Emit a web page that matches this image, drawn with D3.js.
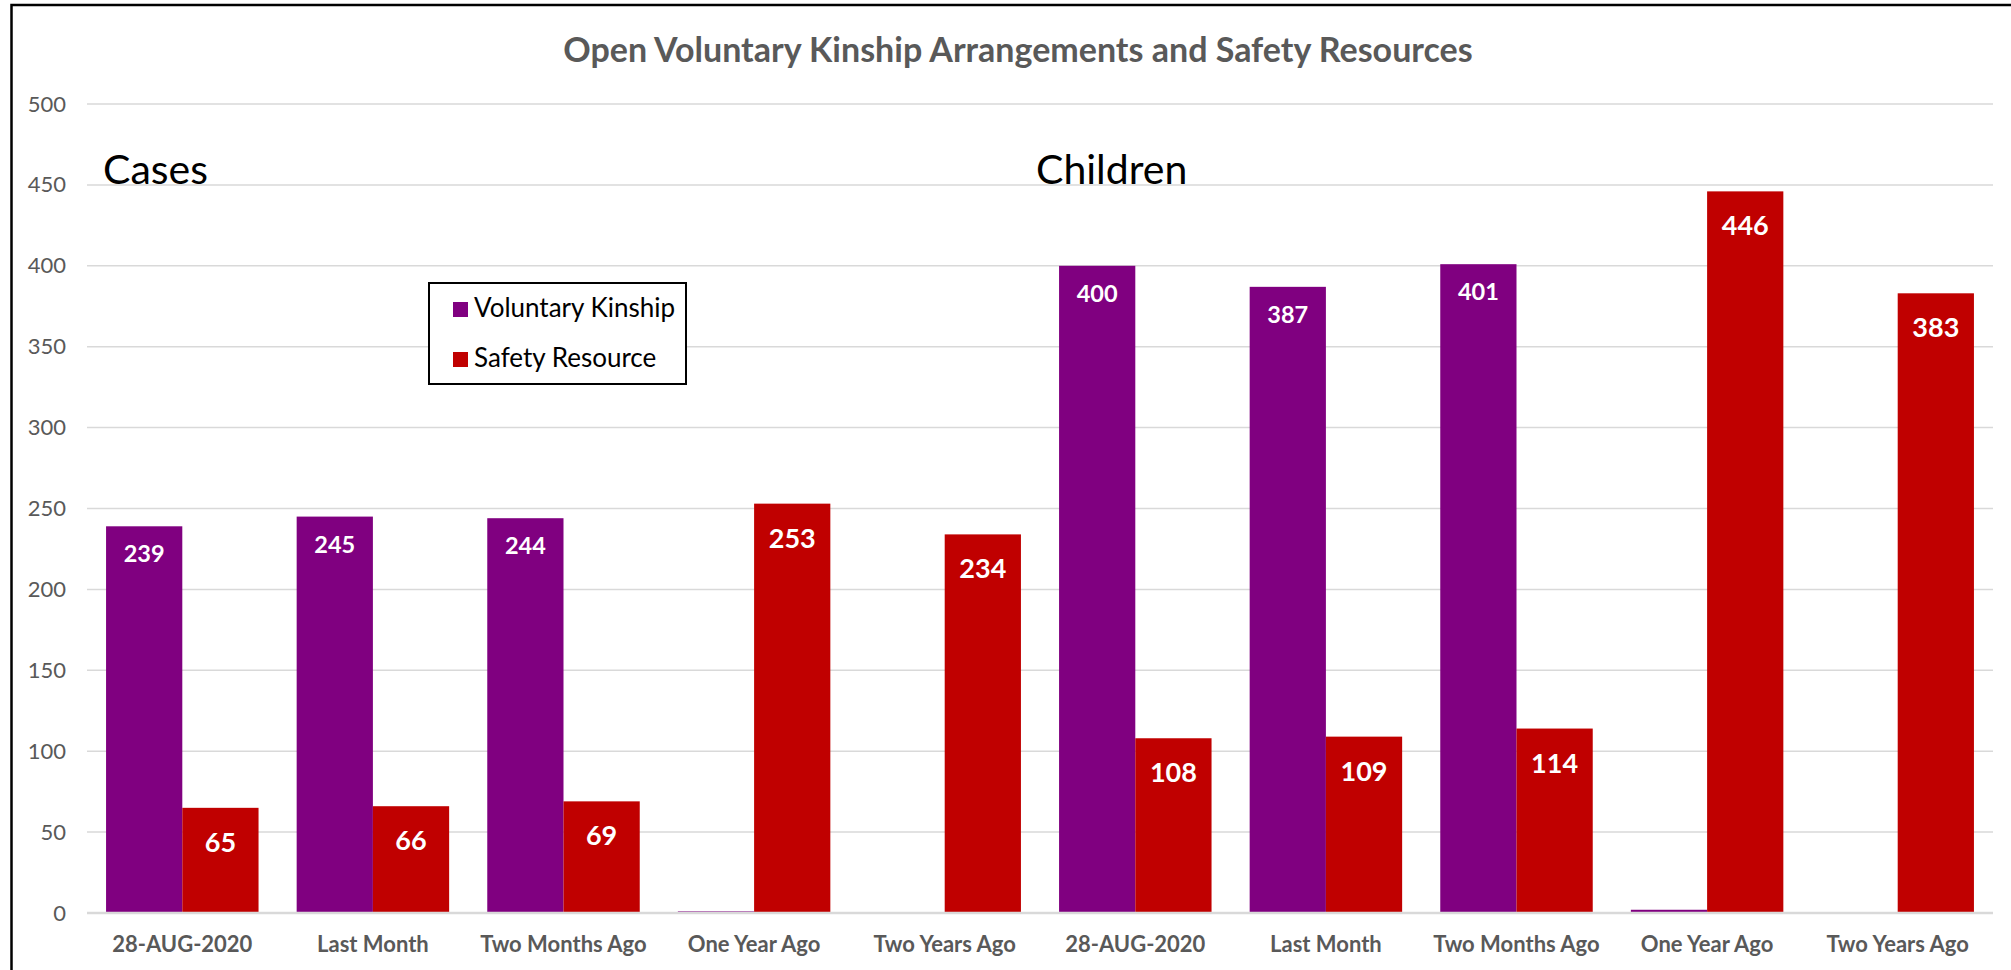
<!DOCTYPE html>
<html>
<head>
    <meta charset="utf-8">
    <title>Open Voluntary Kinship Arrangements and Safety Resources</title>
    <script src="https://d3js.org/d3.v7.min.js"></script>
    <style>
        body {
            margin: 0;
            background: #fff;
            font-family: Lato, "Open Sans", sans-serif;
        }
        .tick text {
            fill: #595959;
        }
    </style>
</head>
<body>
    <svg id="chart" width="2011" height="970"></svg>
    <script>
        // chart data
        var categories = ["28-AUG-2020", "Last Month", "Two Months Ago", "One Year Ago", "Two Years Ago",
            "28-AUG-2020", "Last Month", "Two Months Ago", "One Year Ago", "Two Years Ago"];
        var voluntaryKinship = [239, 245, 244, 1, 0, 400, 387, 401, 2, 0];
        var safetyResource = [65, 66, 69, 253, 234, 108, 109, 114, 446, 383];
        var seriesNames = ["Voluntary Kinship", "Safety Resource"];
        var yTicks = [0, 50, 100, 150, 200, 250, 300, 350, 400, 450, 500];
        var sectionLabels = ["Cases", "Children"];

        var colors = ["#800080", "#c00000"];
        var W = 2011, H = 970;
        var plotLeft = 87, plotRight = 1993, plotTop = 104, plotBottom = 913;

        var svg = d3.select("#chart");

        svg.append("rect")
            .attr("x", 0).attr("y", 0).attr("width", W).attr("height", H)
            .attr("fill", "#fff");
        // outer frame
        svg.append("rect")
            .attr("x", 11.5).attr("y", 5).attr("width", W + 20).attr("height", H + 20)
            .attr("fill", "none").attr("stroke", "#000").attr("stroke-width", 2.5);

        var x = d3.scaleBand()
            .domain(d3.range(categories.length))
            .range([plotLeft, plotRight])
            .paddingInner(0.2)
            .paddingOuter(0.1);

        var x1 = d3.scaleBand()
            .domain([0, 1])
            .range([0, x.bandwidth()]);

        var y = d3.scaleLinear()
            .domain([0, 500])
            .range([plotBottom, plotTop]);

        // gridlines
        svg.append("g")
            .selectAll("line")
            .data(yTicks.filter(function (d) { return d > 0; }))
            .join("line")
            .attr("x1", plotLeft).attr("x2", plotRight)
            .attr("y1", function (d) { return y(d); })
            .attr("y2", function (d) { return y(d); })
            .attr("stroke", "#d9d9d9").attr("stroke-width", 1.5);

        // y axis labels
        var yAxis = svg.append("g")
            .attr("transform", "translate(" + plotLeft + ",0)")
            .call(d3.axisLeft(y).tickValues(yTicks).tickSize(0).tickPadding(21));
        yAxis.select(".domain").remove();
        yAxis.selectAll("text")
            .attr("font-family", "Lato, sans-serif")
            .attr("font-size", 22);

        // bars, one group per category
        var rows = categories.map(function (c, i) {
            return [
                { s: 0, v: voluntaryKinship[i] },
                { s: 1, v: safetyResource[i] }
            ];
        });

        var groups = svg.append("g")
            .selectAll("g")
            .data(rows)
            .join("g")
            .attr("transform", function (d, i) { return "translate(" + x(i) + ",0)"; });

        groups.selectAll("rect")
            .data(function (d) { return d; })
            .join("rect")
            .attr("x", function (d) { return x1(d.s); })
            .attr("y", function (d) { return y(d.v); })
            .attr("width", x1.bandwidth())
            .attr("height", function (d) { return y(0) - y(d.v); })
            .attr("fill", function (d) { return colors[d.s]; });

        // data labels, inside end (tiny values had no label)
        groups.selectAll("text")
            .data(function (d) { return d.filter(function (e) { return e.v >= 10; }); })
            .join("text")
            .attr("x", function (d) { return x1(d.s) + x1.bandwidth() / 2; })
            .attr("y", function (d) { return y(d.v) + (d.s === 0 ? 36 : 44); })
            .attr("text-anchor", "middle")
            .attr("fill", "#fff")
            .attr("font-family", "Lato, sans-serif")
            .attr("font-weight", "bold")
            .attr("font-size", function (d) { return d.s === 0 ? 23.5 : 27; })
            .text(function (d) { return d.v; });

        // baseline
        svg.append("line")
            .attr("x1", plotLeft).attr("x2", plotRight)
            .attr("y1", y(0)).attr("y2", y(0))
            .attr("stroke", "#d9d9d9").attr("stroke-width", 2.5);

        // x axis labels
        var xAxis = svg.append("g")
            .attr("transform", "translate(0," + plotBottom + ")")
            .call(d3.axisBottom(x).tickSize(0).tickPadding(23)
                .tickFormat(function (i) { return categories[i]; }));
        xAxis.select(".domain").remove();
        xAxis.selectAll("text")
            .attr("font-family", "Lato, sans-serif")
            .attr("font-weight", "bold")
            .attr("font-size", 22);

        // title
        svg.append("text")
            .attr("x", 1018).attr("y", 62)
            .attr("text-anchor", "middle")
            .attr("fill", "#595959")
            .attr("font-family", "Lato, sans-serif")
            .attr("font-weight", "bold")
            .attr("font-size", 34)
            .text("Open Voluntary Kinship Arrangements and Safety Resources");

        // section labels
        svg.selectAll(".section")
            .data(sectionLabels)
            .join("text")
            .attr("class", "section")
            .attr("x", function (d, i) { return i === 0 ? 103 : 1036; })
            .attr("y", 184)
            .attr("fill", "#000")
            .attr("font-family", "Lato, sans-serif")
            .attr("font-size", 41)
            .text(function (d) { return d; });

        // legend
        var legend = svg.append("g").attr("transform", "translate(429,283)");
        legend.append("rect")
            .attr("width", 257).attr("height", 101)
            .attr("fill", "#fff").attr("stroke", "#000").attr("stroke-width", 2);
        var items = legend.selectAll(".item")
            .data(seriesNames)
            .join("g")
            .attr("class", "item")
            .attr("transform", function (d, i) { return "translate(24," + (19 + i * 50) + ")"; });
        items.append("rect")
            .attr("width", 15).attr("height", 15)
            .attr("fill", function (d, i) { return colors[i]; });
        items.append("text")
            .attr("x", 21).attr("y", 15)
            .attr("fill", "#000")
            .attr("font-family", "Lato, sans-serif")
            .attr("font-size", 26)
            .text(function (d) { return d; });
    </script>
</body>
</html>
